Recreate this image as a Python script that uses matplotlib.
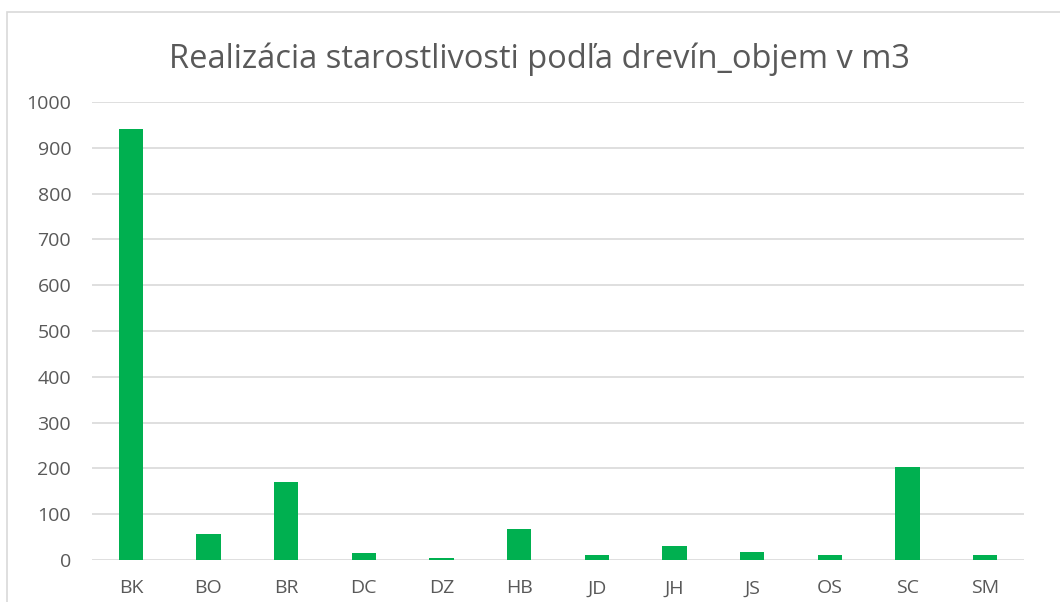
import matplotlib.pyplot as plt
from matplotlib.patches import Rectangle
import numpy as np

categories = ['BK', 'BO', 'BR', 'DC', 'DZ', 'HB', 'JD', 'JH', 'JS', 'OS', 'SC', 'SM']
values = [940, 56, 170, 15, 4, 67, 12, 30, 18, 12, 202, 12]
yticks = list(range(0, 1001, 100))

plt.rcParams['font.family'] = ['Open Sans', 'DejaVu Sans']
text_color = '#595959'

fig = plt.figure(figsize=(10.6, 6.02), dpi=100)
# chart area border (light gray, runs off right/bottom edge)
fig.patches.append(Rectangle((7 / 1060, -0.05), 1.1, 1 - 12 / 602 + 0.05,
                             transform=fig.transFigure, fill=False,
                             edgecolor='#D9D9D9', linewidth=1.2))

ax = fig.add_axes([92 / 1060, 1 - 560 / 602, (1024 - 92) / 1060, (560 - 102) / 602])
x = np.arange(len(categories))
ax.bar(x, values, width=0.31, color='#00B050', zorder=3)

ax.set_xlim(-0.5, len(categories) - 0.5)
ax.set_ylim(0, 1000)
ax.set_yticks(yticks)
ax.set_xticks(x)
ax.set_xticklabels(categories)
ax.tick_params(axis='both', length=0, labelsize=14, colors=text_color)
ax.tick_params(axis='x', pad=14)
ax.tick_params(axis='y', pad=15)
ax.grid(axis='y', color='#D9D9D9', linewidth=1.2, zorder=0)
for s in ax.spines.values():
    s.set_visible(False)

fig.text(539 / 1060, 1 - 68 / 602, 'Realizácia starostlivosti podľa drevín_objem v m3',
         ha='center', va='baseline', fontsize=23.5, color=text_color)

fig.savefig('out.png', dpi=100)
